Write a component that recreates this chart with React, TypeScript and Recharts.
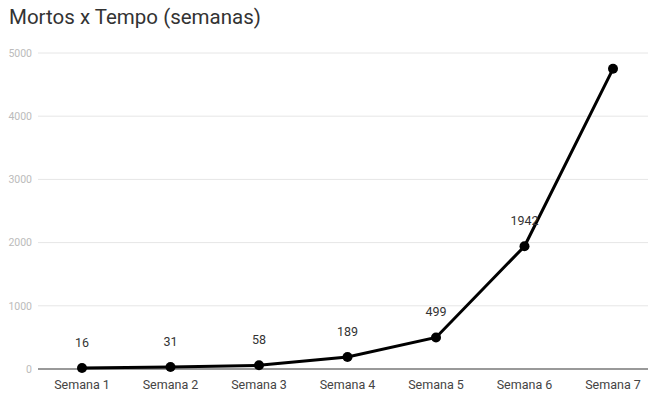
import React from 'react';
import { LineChart, Line, XAxis, YAxis, CartesianGrid, ReferenceLine, LabelList } from 'recharts';

const weeks = ['Semana 1', 'Semana 2', 'Semana 3', 'Semana 4', 'Semana 5', 'Semana 6', 'Semana 7'];
const deaths = [16, 31, 58, 189, 499, 1942, 4750];
// the last point has no label in the original
const showLabel = [true, true, true, true, true, true, false];
const yTicks = [0, 1000, 2000, 3000, 4000, 5000];

const data = weeks.map((week, i) => ({ week, deaths: deaths[i] }));

const FONT = 'Roboto, Arial, sans-serif';

const PointLabel = (props: any) => {
  const { x, y, value, index } = props;
  if (!showLabel[index]) return null;
  return (
    <text x={x} y={y - 21} textAnchor="middle" fontSize={12.5} fill="#333" fontFamily={FONT}>
      {value}
    </text>
  );
};

export default function App() {
  return (
    <div style={{ position: 'absolute', left: 0, top: 0, width: 650, height: 393, background: '#fff', fontFamily: FONT }}>
      <div style={{ position: 'absolute', left: 9, top: 5, fontSize: 20.5, color: '#333', whiteSpace: 'nowrap' }}>
        Mortos x Tempo (semanas)
      </div>
      <LineChart width={650} height={393} data={data} margin={{ top: 53, right: 2, bottom: 0, left: 0 }}>
        <CartesianGrid vertical={false} stroke="#e6e6e6" />
        <XAxis
          dataKey="week"
          height={24}
          axisLine={false}
          tickLine={false}
          padding={{ left: 44, right: 35 }}
          tick={{ fontSize: 12.5, fill: '#444', fontFamily: FONT }}
          tickMargin={5}
          interval={0}
        />
        <YAxis
          width={38}
          domain={[0, 5000]}
          ticks={yTicks}
          axisLine={false}
          tickLine={false}
          tickMargin={0}
          tick={{ fontSize: 10.5, fill: '#bbb', fontFamily: FONT }}
        />
        <ReferenceLine y={0} stroke="#999" strokeWidth={2} />
        <Line
          type="linear"
          dataKey="deaths"
          stroke="#000"
          strokeWidth={3}
          dot={{ r: 5, fill: '#000', stroke: '#000', strokeWidth: 0 }}
          isAnimationActive={false}
        >
          <LabelList dataKey="deaths" content={PointLabel} />
        </Line>
      </LineChart>
    </div>
  );
}
